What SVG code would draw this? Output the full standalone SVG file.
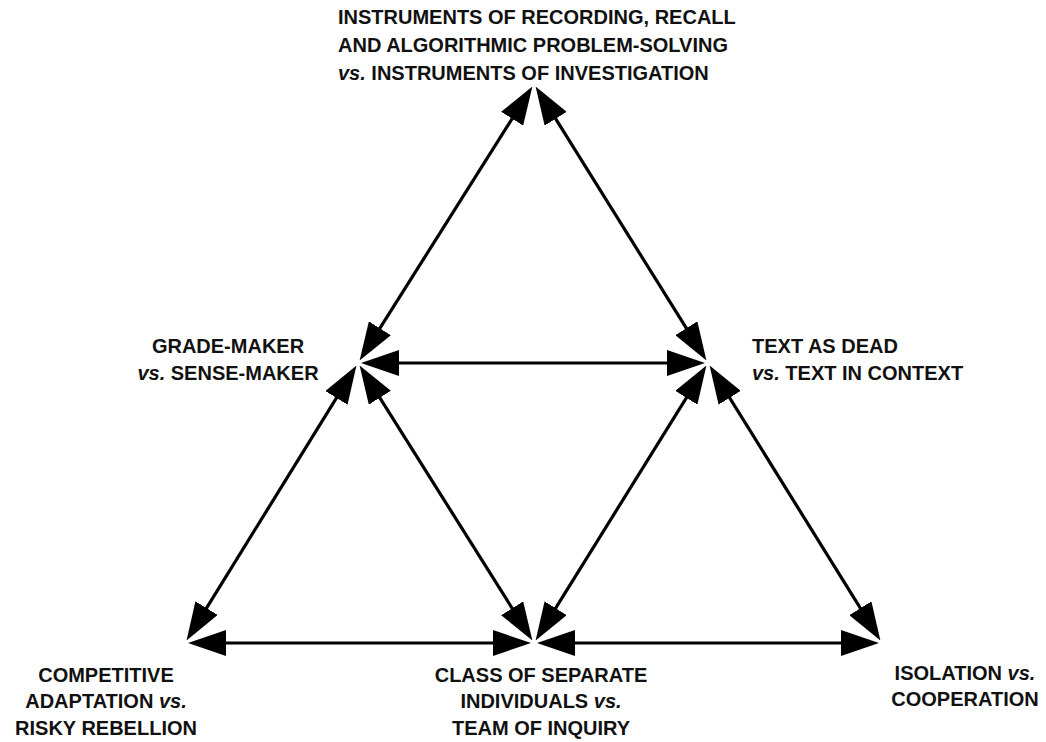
<svg xmlns="http://www.w3.org/2000/svg" width="1046" height="742" viewBox="0 0 1046 742">
<style>
.t{font-family:"Liberation Sans",Arial,sans-serif;font-weight:bold;font-size:20px;fill:#111}
.c{text-anchor:middle}
.v{font-style:italic}
.ln{stroke:#000;stroke-width:3.2;fill:none;marker-start:url(#ah);marker-end:url(#ah)}
</style>
<defs>
<marker id="ah" viewBox="0 0 38 26" refX="20" refY="13" markerWidth="38" markerHeight="26" markerUnits="userSpaceOnUse" orient="auto-start-reverse">
<path d="M0,0 L38,13 L0,26 Z" fill="#000"/>
</marker>
</defs>
<rect width="1046" height="742" fill="#fff"/>
<g id="connectors">
<line class="ln" x1="522.8" y1="101.8" x2="369.2" y2="345.2"/>
<line class="ln" x1="545.1" y1="101.8" x2="696.9" y2="345.2"/>
<line class="ln" x1="379" y1="363" x2="687" y2="363"/>
<line class="ln" x1="347" y1="380.9" x2="196" y2="625.1"/>
<line class="ln" x1="369.2" y1="380.8" x2="522.8" y2="625.2"/>
<line class="ln" x1="696.9" y1="380.8" x2="545.1" y2="625.2"/>
<line class="ln" x1="719.1" y1="380.8" x2="870.9" y2="625.2"/>
<line class="ln" x1="206" y1="643" x2="513" y2="643"/>
<line class="ln" x1="555" y1="643" x2="861" y2="643"/>
</g>
<g id="node-top">
<text class="t" x="338" y="24">INSTRUMENTS OF RECORDING, RECALL</text>
<text class="t" x="338" y="52">AND ALGORITHMIC PROBLEM-SOLVING</text>
<text class="t" x="338" y="80"><tspan class="v">vs.</tspan> INSTRUMENTS OF INVESTIGATION</text>
</g>
<g id="node-midleft">
<text class="t c" x="228" y="353">GRADE-MAKER</text>
<text class="t c" x="228" y="380"><tspan class="v">vs.</tspan> SENSE-MAKER</text>
</g>
<g id="node-midright">
<text class="t" x="752" y="353">TEXT AS DEAD</text>
<text class="t" x="752" y="380"><tspan class="v">vs.</tspan> TEXT IN CONTEXT</text>
</g>
<g id="node-bottomleft">
<text class="t c" x="106" y="682">COMPETITIVE</text>
<text class="t c" x="106" y="708">ADAPTATION <tspan class="v">vs.</tspan></text>
<text class="t c" x="106" y="735">RISKY REBELLION</text>
</g>
<g id="node-bottommid">
<text class="t c" x="541" y="682">CLASS OF SEPARATE</text>
<text class="t c" x="541" y="708">INDIVIDUALS <tspan class="v">vs.</tspan></text>
<text class="t c" x="541" y="735">TEAM OF INQUIRY</text>
</g>
<g id="node-bottomright">
<text class="t c" x="965" y="680">ISOLATION <tspan class="v">vs.</tspan></text>
<text class="t c" x="965" y="706">COOPERATION</text>
</g>
</svg>
